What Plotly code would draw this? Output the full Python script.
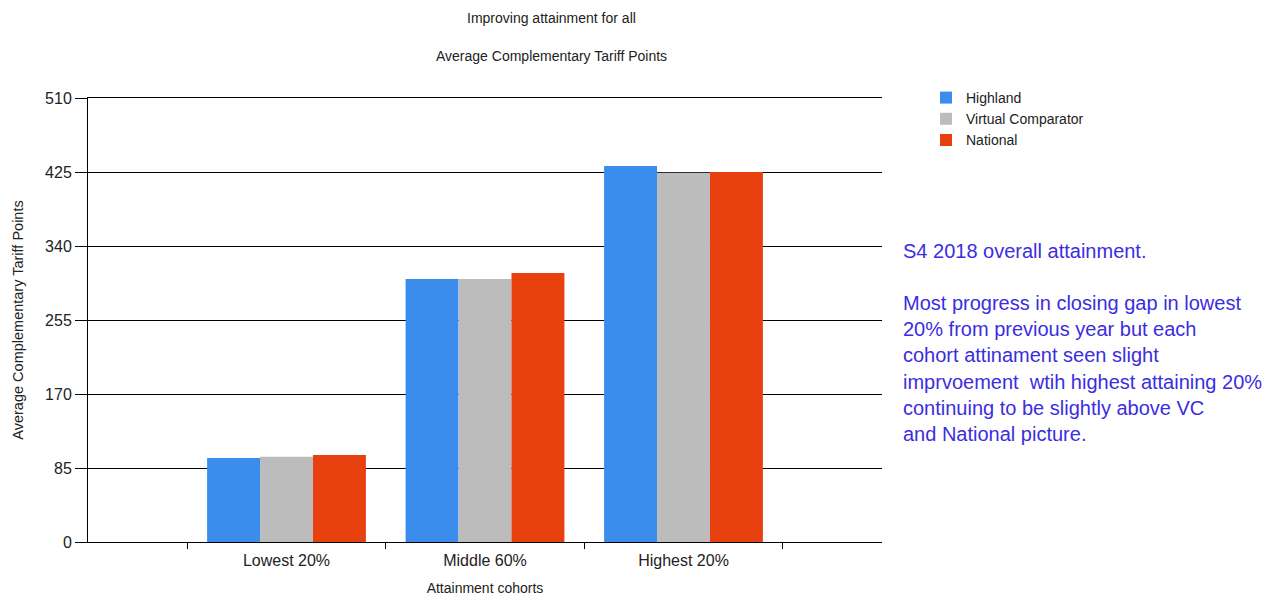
import plotly.graph_objects as go

# Attainment cohorts and average complementary tariff points per comparator
cohorts = ["Lowest 20%", "Middle 60%", "Highest 20%"]
highland = [96.5, 302, 432]
virtual_comparator = [98, 302, 424]
national = [100, 309, 425]

y_ticks = [0, 85, 170, 255, 340, 425, 510]

commentary = [
    "S4 2018 overall attainment.",
    "",
    "Most progress in closing gap in lowest",
    "20% from previous year but each",
    "cohort attinament seen slight",
    "imprvoement  wtih highest attaining 20%",
    "continuing to be slightly above VC",
    "and National picture.",
]

W, H = 1277, 603
L, R, T, B = 88, 882, 98, 542

font_family = "Liberation Sans, Arial, sans-serif"
text_color = "#222"

fig = go.Figure()
fig.add_bar(x=cohorts, y=highland, name="Highland", marker_color="#3b8ded", marker_line_width=0)
fig.add_bar(x=cohorts, y=virtual_comparator, name="Virtual Comparator", marker_color="#bcbcbc", marker_line_width=0)
fig.add_bar(x=cohorts, y=national, name="National", marker_color="#e8400f", marker_line_width=0)


def px_x(px):
    return (px - L) / (R - L)


def px_y(py):
    return (B - py) / (B - T)


annotations = [
    dict(text="Improving attainment for all", x=px_x(551), y=px_y(18), xref="paper", yref="paper",
         yanchor="middle", showarrow=False, font=dict(size=14, color=text_color)),
    dict(text="Average Complementary Tariff Points", x=px_x(551), y=px_y(56), xref="paper", yref="paper",
         yanchor="middle", showarrow=False, font=dict(size=14, color=text_color)),
]

# commentary block to the right of the chart
line_top = 251
for i, line in enumerate(commentary):
    if not line:
        continue
    annotations.append(dict(
        text=line, x=px_x(901), y=px_y(line_top + i * 26.1), xref="paper", yref="paper",
        xanchor="left", yanchor="middle", showarrow=False,
        font=dict(size=20, color="#3b2de0", family=font_family),
    ))

fig.update_layout(
    width=W, height=H,
    margin=dict(l=L, r=W - R, t=T, b=H - B, pad=0, autoexpand=False),
    paper_bgcolor="white", plot_bgcolor="white",
    font=dict(family=font_family, color=text_color),
    barmode="group", bargap=0.2, bargroupgap=0,
    showlegend=True,
    legend=dict(x=px_x(926), y=px_y(82), xanchor="left", yanchor="top",
                font=dict(size=14, color=text_color), bgcolor="rgba(0,0,0,0)",
                tracegroupgap=0, itemwidth=30),
    annotations=annotations,
)

# x axis mirrored so the top edge carries the 510 rule
fig.update_xaxes(
    type="category", range=[-1, 3], tickson="boundaries", automargin=False,
    ticks="outside", ticklen=6, tickcolor="black", tickwidth=1,
    showline=True, mirror=True, linecolor="black", linewidth=1, showgrid=False,
    tickfont=dict(size=16, color=text_color), ticklabelstandoff=4,
    title=dict(text="Attainment cohorts", font=dict(size=14, color=text_color), standoff=14),
)
fig.update_yaxes(
    range=[0, 510], tickvals=y_ticks, ticktext=[str(v) for v in y_ticks], automargin=False,
    ticks="outside", ticklen=12, tickcolor="black", tickwidth=1,
    showline=True, linecolor="black", linewidth=1,
    showgrid=True, gridcolor="black", gridwidth=1, zeroline=False,
    tickfont=dict(size=16, color=text_color),
    title=dict(text="Average Complementary Tariff Points", font=dict(size=14.5, color=text_color), standoff=18),
)

fig.write_html("out.html")
